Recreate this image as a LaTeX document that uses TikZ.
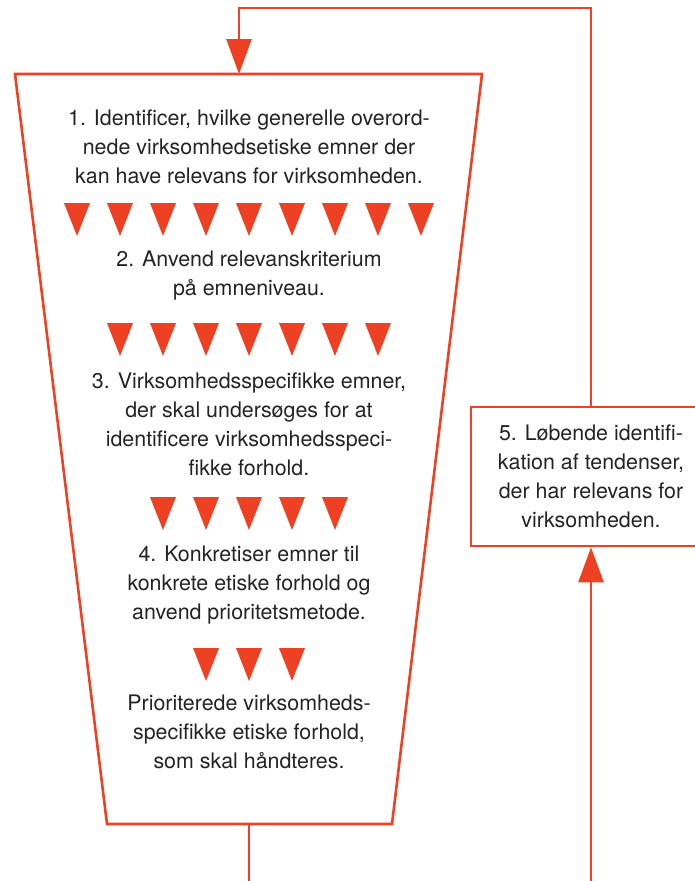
\documentclass[tikz,border=0pt]{standalone}
\usepackage{fontspec}
\setmainfont{TeX Gyre Heros}
\usepackage{tikz}
\usetikzlibrary{arrows.meta, positioning, calc}
\definecolor{signalred}{RGB}{238, 64, 35}
\definecolor{textgrey}{RGB}{35, 35, 35}

\tikzset{
    frame/.style={draw=signalred, line width=2.6pt},
    flow/.style={draw=signalred, line width=2.6pt, -{Triangle[width=25pt, length=35pt]}},
    steptext/.style={align=center, text=textgrey, font=\fontsize{21.4}{29}\selectfont, inner sep=0pt},
    marker/.pic={\fill[signalred] (-13,0) -- (13,0) -- (0,33) -- cycle;}
}

\begin{document}
\begin{tikzpicture}[x=1pt, y=-1pt]
        \clip (0,0) rectangle (695,881);
        \coordinate (tl) at (15,74);
        \coordinate (tr) at (482,74);
        \coordinate (br) at (392,824);
        \coordinate (bl) at (107,824);
        \coordinate (inlet) at (239,74);
        \coordinate (outlet) at (249,824);
        \coordinate (looptop) at (0,8);
        \coordinate (feed) at (591,881);
        \draw[frame] (tl) -- (tr) -- (br) -- (bl) -- cycle;

        \node[steptext] (identify) at (249,147) {1. Identificer, hvilke generelle overord-\\nede virksomhedsetiske emner der\\kan have relevans for virksomheden.};
        \node[steptext] (criterion) at (249,276) {2. Anvend relevanskriterium\\på emneniveau.};
        \node[steptext] (specific) at (249,424) {3. Virksomhedsspecifikke emner,\\der skal undersøges for at\\identificere virksomhedsspeci-\\fikke forhold.};
        \node[steptext] (concrete) at (249,585) {4. Konkretiser emner til\\konkrete etiske forhold og\\anvend prioritetsmetode.};
        \node[steptext] (result) at (249,732) {Prioriterede virksomheds-\\specifikke etiske forhold,\\som skal håndteres.};

        \foreach \n/\y in {9/203, 7/323, 5/497, 3/648}
            \foreach \i in {1,...,\n}
                \pic at ({249+(\i-(\n+1)/2)*43},\y) {marker};

        \node[steptext, frame, minimum width=240pt, minimum height=139pt] (trend) at (591,476.5) {5. Løbende identifi-\\kation af tendenser,\\der har relevans for\\virksomheden.};

        \draw[frame] (outlet) -- (outlet |- feed);
        \draw[flow] (feed) -- (trend.south);
        \draw[flow] (trend.north) -- (trend.north |- looptop) -- (inlet |- looptop) -- (inlet);
    \end{tikzpicture}
\end{document}
